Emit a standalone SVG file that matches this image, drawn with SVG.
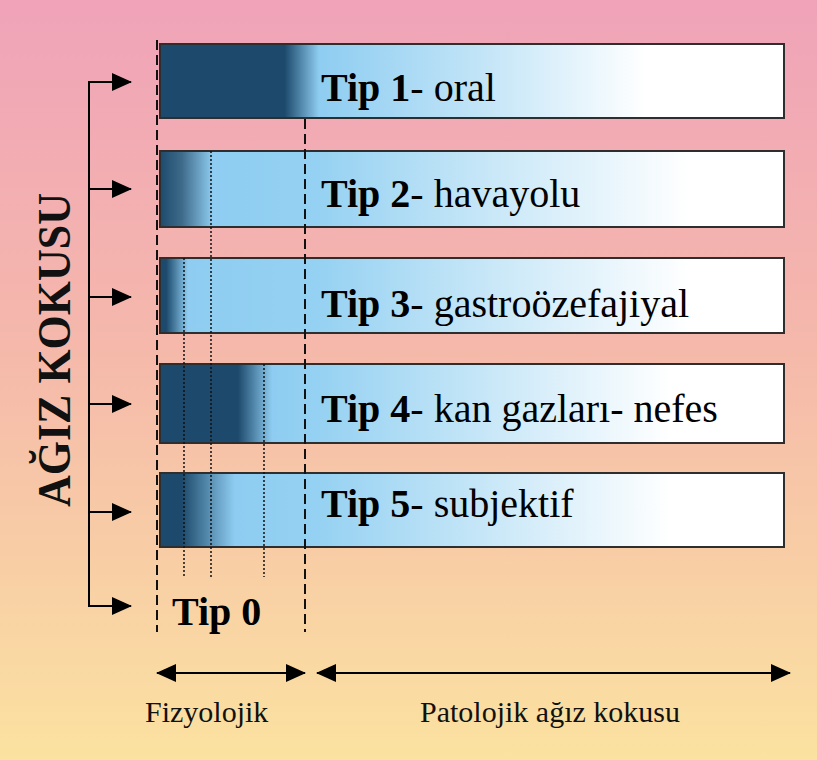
<svg xmlns="http://www.w3.org/2000/svg" width="817" height="760" viewBox="0 0 817 760">
<defs>
<linearGradient id="bg" x1="0" y1="0" x2="0" y2="1">
<stop offset="0" stop-color="#f0a3b9"/>
<stop offset="0.45" stop-color="#f5b8ab"/>
<stop offset="1" stop-color="#fbe2a0"/>
</linearGradient>
<linearGradient id="g1" gradientUnits="userSpaceOnUse" x1="160" y1="0" x2="784" y2="0">
<stop offset="0" stop-color="#1d4a6c"/>
<stop offset="0.2" stop-color="#1d4a6c"/>
<stop offset="0.255" stop-color="#8ecdf1"/>
<stop offset="0.5" stop-color="#bfe3f7"/>
<stop offset="0.78" stop-color="#ffffff"/>
<stop offset="1" stop-color="#ffffff"/>
</linearGradient>
<linearGradient id="g2" gradientUnits="userSpaceOnUse" x1="160" y1="0" x2="784" y2="0">
<stop offset="0" stop-color="#1d4a6c"/>
<stop offset="0.035" stop-color="#3f6a8a"/>
<stop offset="0.085" stop-color="#8ecdf1"/>
<stop offset="0.25" stop-color="#95d1f2"/>
<stop offset="0.5" stop-color="#c3e5f7"/>
<stop offset="0.85" stop-color="#ffffff"/>
<stop offset="1" stop-color="#ffffff"/>
</linearGradient>
<linearGradient id="g3" gradientUnits="userSpaceOnUse" x1="160" y1="0" x2="784" y2="0">
<stop offset="0" stop-color="#1d4a6c"/>
<stop offset="0.01" stop-color="#1d4a6c"/>
<stop offset="0.045" stop-color="#8ecdf1"/>
<stop offset="0.25" stop-color="#95d1f2"/>
<stop offset="0.5" stop-color="#c3e5f7"/>
<stop offset="0.85" stop-color="#ffffff"/>
<stop offset="1" stop-color="#ffffff"/>
</linearGradient>
<linearGradient id="g4" gradientUnits="userSpaceOnUse" x1="160" y1="0" x2="784" y2="0">
<stop offset="0" stop-color="#1d4a6c"/>
<stop offset="0.125" stop-color="#1d4a6c"/>
<stop offset="0.18" stop-color="#8ecdf1"/>
<stop offset="0.25" stop-color="#95d1f2"/>
<stop offset="0.5" stop-color="#c3e5f7"/>
<stop offset="0.82" stop-color="#ffffff"/>
<stop offset="1" stop-color="#ffffff"/>
</linearGradient>
<linearGradient id="g5" gradientUnits="userSpaceOnUse" x1="160" y1="0" x2="784" y2="0">
<stop offset="0" stop-color="#1d4a6c"/>
<stop offset="0.035" stop-color="#1d4a6c"/>
<stop offset="0.12" stop-color="#8ecdf1"/>
<stop offset="0.25" stop-color="#95d1f2"/>
<stop offset="0.5" stop-color="#c3e5f7"/>
<stop offset="0.82" stop-color="#ffffff"/>
<stop offset="1" stop-color="#ffffff"/>
</linearGradient>
<marker id="ah" markerUnits="userSpaceOnUse" viewBox="0 0 20 20" refX="19" refY="10" markerWidth="21" markerHeight="20" orient="auto-start-reverse">
<path d="M0,1 L20,10 L0,19 Z" fill="#000"/>
</marker>
</defs>
<style>
.bar{stroke:#2e2e2e;stroke-width:2}
.lbl{font-family:"Liberation Serif","Times New Roman",serif;font-size:40px;fill:#000}
.b{font-weight:bold}
.conn{stroke:#000;stroke-width:2;fill:none}
.dash{stroke:#111;stroke-width:2;stroke-dasharray:10,5;fill:none}
.dot{stroke:#111;stroke-width:1.5;stroke-dasharray:2,2;fill:none}
.cap{font-family:"Liberation Serif","Times New Roman",serif;font-size:30px;fill:#111}
</style>
<rect x="0" y="0" width="817" height="760" fill="url(#bg)"/>

<g id="tip1">
<rect class="bar" x="160" y="44" width="624" height="74" fill="url(#g1)"/>
<text class="lbl" x="321" y="101"><tspan class="b">Tip 1</tspan>- oral</text>
</g>
<g id="tip2">
<rect class="bar" x="160" y="151" width="624" height="76" fill="url(#g2)"/>
<text class="lbl" x="321" y="207"><tspan class="b">Tip 2</tspan>- havayolu</text>
</g>
<g id="tip3">
<rect class="bar" x="160" y="258" width="624" height="75" fill="url(#g3)"/>
<text class="lbl" x="321" y="317"><tspan class="b">Tip 3</tspan>- gastroözefajiyal</text>
</g>
<g id="tip4">
<rect class="bar" x="160" y="364" width="624" height="79" fill="url(#g4)"/>
<text class="lbl" x="321" y="422"><tspan class="b">Tip 4</tspan>- kan gazları- nefes</text>
</g>
<g id="tip5">
<rect class="bar" x="160" y="473" width="624" height="74" fill="url(#g5)"/>
<text class="lbl" x="321" y="517"><tspan class="b">Tip 5</tspan>- subjektif</text>
</g>
<g id="tip0">
<text class="lbl b" x="172" y="625">Tip 0</text>
</g>

<g id="guides">
<line class="dash" x1="157" y1="40" x2="157" y2="632"/>
<line class="dash" x1="305" y1="119" x2="305" y2="632"/>
<line class="dot" x1="184" y1="258" x2="184" y2="577"/>
<line class="dot" x1="211" y1="151" x2="211" y2="577"/>
<line class="dot" x1="264" y1="364" x2="264" y2="577"/>
</g>

<g id="title">
<text transform="translate(70,350) rotate(-90)" text-anchor="middle" font-family="Liberation Serif, Times New Roman, serif" font-weight="bold" font-size="47" textLength="314" lengthAdjust="spacingAndGlyphs" fill="#111">AĞIZ KOKUSU</text>
</g>

<g id="connectors">
<line class="conn" x1="89" y1="81" x2="89" y2="607"/>
<line class="conn" x1="88" y1="82" x2="131" y2="82" marker-end="url(#ah)"/>
<line class="conn" x1="88" y1="189" x2="131" y2="189" marker-end="url(#ah)"/>
<line class="conn" x1="88" y1="297" x2="131" y2="297" marker-end="url(#ah)"/>
<line class="conn" x1="88" y1="404" x2="131" y2="404" marker-end="url(#ah)"/>
<line class="conn" x1="88" y1="512" x2="131" y2="512" marker-end="url(#ah)"/>
<line class="conn" x1="88" y1="606" x2="131" y2="606" marker-end="url(#ah)"/>
<line class="conn" x1="157" y1="673" x2="305" y2="673" marker-start="url(#ah)" marker-end="url(#ah)"/>
<line class="conn" x1="317" y1="673" x2="790" y2="673" marker-start="url(#ah)" marker-end="url(#ah)"/>
</g>

<g id="labels">
<text class="cap" x="145" y="722">Fizyolojik</text>
<text class="cap" x="550" y="722" text-anchor="middle">Patolojik ağız kokusu</text>
</g>
</svg>
